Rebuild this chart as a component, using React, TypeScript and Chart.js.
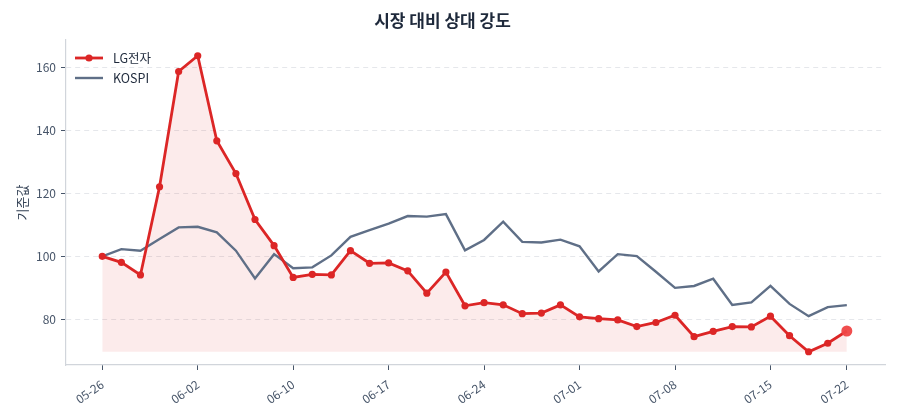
import { useEffect, useRef } from "react";
import { Chart, registerables } from "chart.js";

Chart.register(...registerables);

const dates = [
  "05-26", "05-27", "05-28", "05-29", "05-30",
  "06-02", "06-03", "06-04", "06-05", "06-09",
  "06-10", "06-11", "06-12", "06-13", "06-16",
  "06-17", "06-18", "06-19", "06-20", "06-23",
  "06-24", "06-25", "06-26", "06-27", "06-30",
  "07-01", "07-02", "07-03", "07-04", "07-07",
  "07-08", "07-09", "07-10", "07-11", "07-14",
  "07-15", "07-16", "07-17", "07-18", "07-22",
];

const lgValues = [
  100, 98.1, 94.1, 122.1, 158.7, 163.7, 136.7, 126.3, 111.7, 103.4,
  93.3, 94.3, 94.1, 101.8, 97.8, 97.9, 95.4, 88.3, 95.0, 84.3,
  85.3, 84.6, 81.8, 82.0, 84.6, 80.8, 80.2, 79.8, 77.7, 79.0,
  81.3, 74.5, 76.2, 77.7, 77.6, 81.0, 74.8, 69.7, 72.4, 76.3,
];

const kospiValues = [
  100, 102.3, 101.8, 105.5, 109.2, 109.4, 107.6, 101.8, 93.0, 100.7,
  96.2, 96.5, 100.3, 106.2, 108.3, 110.4, 112.8, 112.6, 113.4, 101.9,
  105.2, 111.0, 104.6, 104.4, 105.3, 103.2, 95.2, 100.7, 100.1, 95.1,
  90.0, 90.6, 92.9, 84.6, 85.4, 90.6, 84.9, 81.0, 83.9, 84.5,
];

const seriesNames = ["LG전자", "KOSPI"];
const yTicks = [80, 100, 120, 140, 160];
const xTickIdx = [0, 5, 10, 15, 20, 25, 30, 35, 39];

const FONT = "'Noto Sans CJK KR', 'Noto Sans', sans-serif";
const RED = "#dc2626";
const SLATE = "#5f6f87";
const TICK = "#475569";

const insideLegend = {
  id: "insideLegend",
  afterDraw(chart: Chart) {
    const { ctx, chartArea } = chart;
    const items = [
      { label: seriesNames[0], color: RED, width: 2.8, dot: true },
      { label: seriesNames[1], color: SLATE, width: 2.4, dot: false },
    ];
    ctx.save();
    ctx.font = `12.5px ${FONT}`;
    ctx.textBaseline = "middle";
    items.forEach((it, i) => {
      const y = chartArea.top + 18 + i * 20;
      const x0 = chartArea.left + 9;
      ctx.strokeStyle = it.color;
      ctx.lineWidth = it.width;
      ctx.beginPath();
      ctx.moveTo(x0, y);
      ctx.lineTo(x0 + 28, y);
      ctx.stroke();
      if (it.dot) {
        ctx.fillStyle = it.color;
        ctx.beginPath();
        ctx.arc(x0 + 14, y, 3.6, 0, Math.PI * 2);
        ctx.fill();
      }
      ctx.fillStyle = "#1e293b";
      ctx.fillText(it.label, x0 + 38, y + 0.5);
    });
    ctx.restore();
  },
};

export default function App() {
  const canvasRef = useRef<HTMLCanvasElement>(null);

  useEffect(() => {
    document.body.style.margin = "0";
    const canvas = canvasRef.current;
    if (!canvas) return;

    const last = lgValues.length - 1;
    const floor = Math.min(...lgValues);

    const chart = new Chart(canvas, {
      type: "line",
      data: {
        datasets: [
          {
            label: seriesNames[0],
            data: lgValues.map((v, i) => ({ x: i, y: v })),
            borderColor: RED,
            borderWidth: 2.8,
            backgroundColor: "rgba(220,38,38,0.09)",
            fill: { value: floor },
            pointRadius: (c: any) => (c.dataIndex === last ? 5.5 : 3.6),
            pointBackgroundColor: (c: any) =>
              c.dataIndex === last ? "rgba(239,68,68,0.95)" : RED,
            pointBorderWidth: 0,
            tension: 0,
          },
          {
            label: seriesNames[1],
            data: kospiValues.map((v, i) => ({ x: i, y: v })),
            borderColor: SLATE,
            borderWidth: 2.4,
            pointRadius: 0,
            fill: false,
            tension: 0,
          },
        ],
      },
      options: {
        animation: false,
        responsive: true,
        maintainAspectRatio: false,
        layout: { padding: { left: 0, right: 15, top: 0, bottom: 0 } },
        plugins: {
          legend: { display: false },
          tooltip: { enabled: false },
          filler: { drawTime: "beforeDatasetsDraw" },
          title: {
            display: true,
            text: "시장 대비 상대 강도",
            color: "#1e293b",
            font: { family: FONT, size: 17, weight: "bold" },
            padding: { top: 10, bottom: 9.6 },
          },
        },
        scales: {
          x: {
            type: "linear",
            min: -1.9,
            max: 41,
            afterBuildTicks: (s: any) => {
              s.ticks = xTickIdx.map((v) => ({ value: v }));
            },
            afterFit: (s: any) => {
              s.height = 55;
            },
            ticks: {
              callback: (v: any) => dates[v as number] ?? "",
              minRotation: 35,
              maxRotation: 35,
              color: TICK,
              font: { family: FONT, size: 12 },
              padding: 7,
              autoSkip: false,
            },
            grid: {
              drawOnChartArea: false,
              drawTicks: true,
              tickLength: 5,
              tickColor: TICK,
              tickWidth: 1,
            },
            border: { color: "#d1d5db", width: 1.2 },
          },
          y: {
            min: 65.5,
            max: 168.7,
            afterBuildTicks: (s: any) => {
              s.ticks = yTicks.map((v) => ({ value: v }));
            },
            afterFit: (s: any) => {
              s.width = 66;
            },
            title: {
              display: true,
              text: "기준값",
              color: "#334155",
              font: { family: FONT, size: 13 },
              padding: { top: 14, bottom: 4 },
            },
            ticks: {
              color: TICK,
              font: { family: FONT, size: 12 },
              padding: 5,
            },
            grid: {
              color: "#e5e7eb",
              tickColor: TICK,
              tickLength: 5,
              tickWidth: 1,
              tickBorderDash: [],
            },
            border: { color: "#d1d5db", width: 1.2, dash: [5, 4] },
          },
        },
      },
      plugins: [insideLegend],
    });

    return () => chart.destroy();
  }, []);

  return (
    <div style={{ position: "relative", width: 900, height: 420 }}>
      <canvas ref={canvasRef} />
    </div>
  );
}
